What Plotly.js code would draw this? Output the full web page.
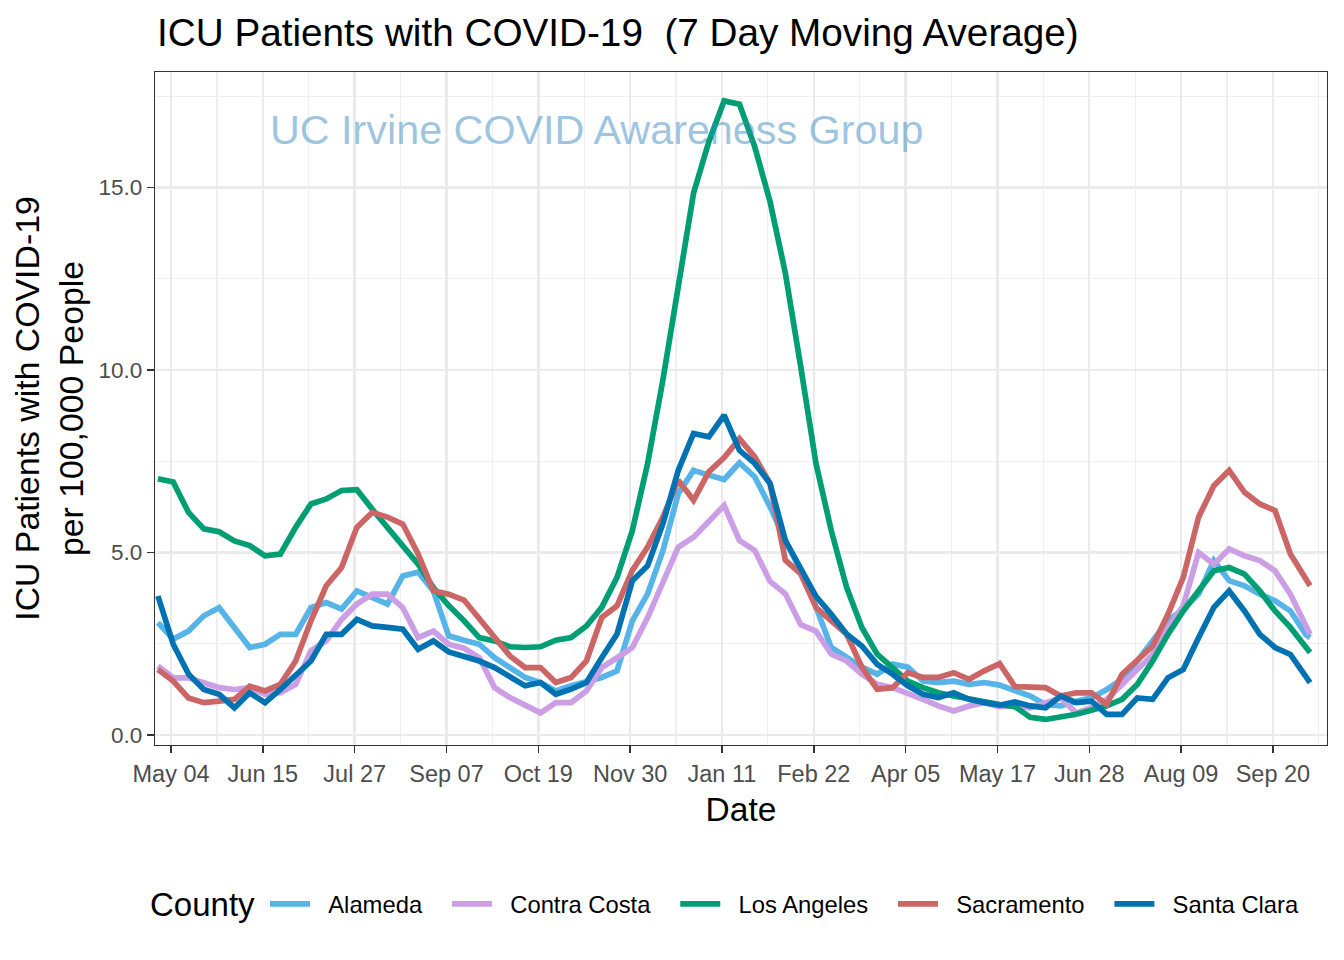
<!DOCTYPE html>
<html>
<head>
<meta charset="utf-8">
<script src="https://cdn.plot.ly/plotly-3.0.1.min.js"></script>
<style>html,body{margin:0;padding:0;background:#fff;}#chart{width:1344px;height:960px;}</style>
</head>
<body>
<div id="chart"></div>
<script>
const dates = ["2020-04-28","2020-05-05","2020-05-12","2020-05-19","2020-05-26","2020-06-02","2020-06-09","2020-06-16","2020-06-23","2020-06-30",
"2020-07-07","2020-07-14","2020-07-21","2020-07-28","2020-08-04","2020-08-11","2020-08-18","2020-08-25","2020-09-01","2020-09-08",
"2020-09-15","2020-09-22","2020-09-29","2020-10-06","2020-10-13","2020-10-20","2020-10-27","2020-11-03","2020-11-10","2020-11-17",
"2020-11-24","2020-12-01","2020-12-08","2020-12-15","2020-12-22","2020-12-29","2021-01-05","2021-01-12","2021-01-19","2021-01-26",
"2021-02-02","2021-02-09","2021-02-16","2021-02-23","2021-03-02","2021-03-09","2021-03-16","2021-03-23","2021-03-30","2021-04-06",
"2021-04-13","2021-04-20","2021-04-27","2021-05-04","2021-05-11","2021-05-18","2021-05-25","2021-06-01","2021-06-08","2021-06-15",
"2021-06-22","2021-06-29","2021-07-06","2021-07-13","2021-07-20","2021-07-27","2021-08-03","2021-08-10","2021-08-17","2021-08-24",
"2021-08-31","2021-09-07","2021-09-14","2021-09-21","2021-09-28","2021-10-05","2021-10-07"];

const alameda = [3.08,2.63,2.85,3.27,3.49,2.95,2.40,2.49,2.76,2.76,
3.49,3.63,3.45,3.95,3.77,3.59,4.36,4.46,3.95,2.72,
2.60,2.49,2.12,1.85,1.58,1.44,1.21,1.35,1.48,1.58,
1.76,3.13,3.87,5.05,6.61,7.25,7.12,7.00,7.46,7.07,
6.25,5.33,4.51,3.51,2.40,2.13,1.86,1.67,1.95,1.86,
1.48,1.44,1.48,1.39,1.44,1.37,1.20,1.07,0.84,0.80,
0.93,1.02,1.25,1.53,2.03,2.58,3.13,3.45,3.86,4.78,
4.23,4.09,3.86,3.68,3.40,2.76,2.67];

const contraCosta = [1.89,1.57,1.57,1.44,1.30,1.25,1.30,1.12,1.16,1.39,
2.31,2.58,3.17,3.59,3.86,3.86,3.49,2.67,2.85,2.49,
2.38,2.12,1.30,1.03,0.80,0.61,0.89,0.89,1.21,1.85,
2.12,2.40,3.22,4.14,5.15,5.42,5.83,6.29,5.33,5.06,
4.21,3.87,3.03,2.85,2.22,2.03,1.67,1.39,1.30,1.16,
0.98,0.80,0.66,0.80,0.89,0.78,0.80,0.75,0.89,1.02,
0.61,0.75,0.98,1.39,1.76,2.21,2.95,3.54,5.00,4.68,
5.10,4.91,4.78,4.50,3.86,3.04,2.76];

const losAngeles = [7.02,6.93,6.10,5.65,5.57,5.32,5.19,4.91,4.96,5.69,
6.33,6.47,6.70,6.72,6.19,5.69,5.23,4.68,4.04,3.55,
3.13,2.67,2.58,2.42,2.40,2.42,2.60,2.67,2.99,3.50,
4.32,5.60,7.44,9.73,12.28,14.84,16.25,17.37,17.28,16.11,
14.61,12.65,10.10,7.44,5.60,4.05,2.95,2.22,1.85,1.48,
1.30,1.16,1.07,0.98,0.93,0.84,0.78,0.49,0.43,0.49,
0.57,0.68,0.80,0.98,1.39,2.03,2.76,3.40,3.95,4.50,
4.59,4.41,3.95,3.40,2.95,2.40,2.26];

const sacramento = [1.80,1.48,1.02,0.89,0.93,0.98,1.34,1.21,1.39,2.03,
3.13,4.09,4.59,5.69,6.10,5.97,5.78,4.96,3.95,3.86,
3.70,3.18,2.67,2.17,1.85,1.85,1.44,1.58,2.03,3.22,
3.54,4.51,5.15,5.97,6.98,6.43,7.21,7.60,8.12,7.62,
6.89,4.79,4.42,3.50,3.13,2.77,1.86,1.26,1.30,1.71,
1.58,1.58,1.71,1.53,1.76,1.96,1.33,1.30,1.30,1.07,
1.16,1.16,0.84,1.67,2.03,2.44,3.31,4.32,5.97,6.83,
7.25,6.65,6.33,6.15,4.96,4.23,4.09];

const santaClara = [3.81,2.49,1.67,1.25,1.12,0.75,1.16,0.89,1.25,1.62,
2.03,2.76,2.76,3.17,2.99,2.95,2.90,2.35,2.58,2.28,
2.17,2.03,1.85,1.62,1.35,1.44,1.12,1.26,1.44,2.12,
2.77,4.23,4.64,5.79,7.25,8.26,8.17,8.76,7.80,7.44,
6.89,5.33,4.59,3.80,3.31,2.77,2.44,1.94,1.67,1.35,
1.12,1.03,1.16,0.98,0.89,0.82,0.91,0.80,0.75,1.07,
0.89,0.93,0.57,0.57,1.02,0.98,1.57,1.80,2.67,3.50,
3.95,3.40,2.76,2.40,2.21,1.57,1.44];

const counties = ["Alameda","Contra Costa","Los Angeles","Sacramento","Santa Clara"];
const seriesValues = [alameda, contraCosta, losAngeles, sacramento, santaClara];
const colors = ["#56B4E9","#CC9EE6","#009E73","#CC6666","#0072B2"];

const LEAD = "\u00a0\u00a0";
const TRAIL = "\u00a0\u00a0\u00a0";
const traces = counties.map((name, i) => ({
  type: "scatter",
  mode: "lines",
  name: LEAD + name + TRAIL,
  x: dates,
  y: seriesValues[i],
  line: {color: colors[i], width: 5.7, shape: "linear"},
  hoverinfo: "x+y+name"
}));

const DAY = 86400000;
const layout = {
  width: 1344,
  height: 960,
  paper_bgcolor: "#ffffff",
  plot_bgcolor: "#ffffff",
  margin: {l: 155, r: 17, t: 72, b: 215},
  font: {family: "Liberation Sans, Arial, sans-serif", color: "#000"},
  title: {
    text: "ICU Patients with COVID-19  (7 Day Moving Average)",
    font: {size: 38.7, color: "#000"},
    x: 157 / 1344, xanchor: "left", xref: "container",
    y: 1 - 32 / 960, yanchor: "middle", yref: "container"
  },
  xaxis: {
    type: "date",
    range: ["2020-04-26 16:00", "2021-10-14 18:00"],
    tick0: "2020-05-04",
    dtick: 42 * DAY,
    tickformat: "%b %d",
    ticks: "outside",
    ticklen: 7,
    tickwidth: 1.5,
    tickcolor: "#333333",
    tickfont: {size: 23.5, color: "#4D4D4D"},
    showgrid: true,
    gridcolor: "#EBEBEB",
    gridwidth: 2.4,
    minor: {dtick: 21 * DAY, tick0: "2020-05-04", showgrid: true, gridcolor: "#EFEFEF", gridwidth: 1.2},
    showline: true,
    mirror: true,
    linecolor: "#333333",
    linewidth: 1.3,
    zeroline: false,
    title: {text: "Date", font: {size: 33.5, color: "#000"}, standoff: 12}
  },
  yaxis: {
    range: [-0.27, 18.16],
    tick0: 0,
    dtick: 5,
    tickformat: ".1f",
    ticks: "outside",
    ticklen: 7,
    tickwidth: 1.5,
    tickcolor: "#333333",
    tickfont: {size: 22.5, color: "#4D4D4D"},
    showgrid: true,
    gridcolor: "#EBEBEB",
    gridwidth: 2.4,
    minor: {dtick: 2.5, showgrid: true, gridcolor: "#EFEFEF", gridwidth: 1.2},
    showline: true,
    mirror: true,
    linecolor: "#333333",
    linewidth: 1.3,
    zeroline: false,
    title: {text: "ICU Patients with COVID-19<br>per 100,000 People", font: {size: 33.8, color: "#000"}, standoff: 4}
  },
  showlegend: true,
  legend: {
    orientation: "h",
    x: (265 - 155) / 1172, xanchor: "left",
    y: (745 - 904) / 673, yanchor: "middle",
    font: {size: 23.8, color: "#000"},
    itemwidth: 40,
    bgcolor: "rgba(0,0,0,0)"
  },
  annotations: [{
    text: "UC Irvine COVID Awareness Group",
    xref: "paper", yref: "paper",
    x: (596 - 155) / 1172, y: (745 - 130) / 673,
    xanchor: "center", yanchor: "middle",
    showarrow: false,
    font: {size: 41.3, color: "rgba(60,140,195,0.5)"}
  }, {
    text: "County",
    xref: "paper", yref: "paper",
    x: (148 - 155) / 1172, y: (745 - 904) / 673,
    xanchor: "left", yanchor: "middle",
    showarrow: false,
    font: {size: 33, color: "#000"}
  }]
};

Plotly.newPlot("chart", traces, layout, {displayModeBar: false, staticPlot: true});
</script>
</body>
</html>
